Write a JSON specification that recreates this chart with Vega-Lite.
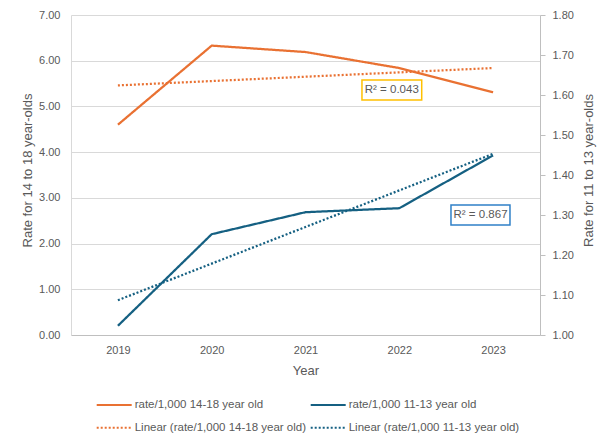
{
  "$schema": "https://vega.github.io/schema/vega-lite/v6.json",
  "width": 469,
  "height": 320,
  "autosize": {"type": "none"},
  "padding": {"left": 71, "top": 15, "right": 71, "bottom": 111},
  "background": "#ffffff",
  "config": {
    "font": "Liberation Sans",
    "view": {"stroke": null},
    "axis": {"labelColor": "#595959", "titleColor": "#595959", "labelFontSize": 11, "titleFontSize": 13, "titleFontWeight": "normal"}
  },
  "datasets": {
    "rates": [
      {"year": 2019, "series": "rate/1,000 14-18 year old", "value": 4.60},
      {"year": 2020, "series": "rate/1,000 14-18 year old", "value": 6.33},
      {"year": 2021, "series": "rate/1,000 14-18 year old", "value": 6.19},
      {"year": 2022, "series": "rate/1,000 14-18 year old", "value": 5.84},
      {"year": 2023, "series": "rate/1,000 14-18 year old", "value": 5.31},
      {"year": 2019, "series": "rate/1,000 11-13 year old", "value": 1.023},
      {"year": 2020, "series": "rate/1,000 11-13 year old", "value": 1.252},
      {"year": 2021, "series": "rate/1,000 11-13 year old", "value": 1.307},
      {"year": 2022, "series": "rate/1,000 11-13 year old", "value": 1.317},
      {"year": 2023, "series": "rate/1,000 11-13 year old", "value": 1.449},
      {"year": 2019, "series": "Linear (rate/1,000 14-18 year old)", "value": 5.46},
      {"year": 2023, "series": "Linear (rate/1,000 14-18 year old)", "value": 5.84},
      {"year": 2019, "series": "Linear (rate/1,000 11-13 year old)", "value": 1.087},
      {"year": 2023, "series": "Linear (rate/1,000 11-13 year old)", "value": 1.453}
    ]
  },
  "data": {"name": "rates"},
  "encoding": {
    "x": {
      "field": "year",
      "type": "quantitative",
      "title": "Year",
      "scale": {"domain": [2018.5, 2023.5], "nice": false, "zero": false},
      "axis": {
        "values": [2019, 2020, 2021, 2022, 2023],
        "format": "d",
        "grid": false,
        "ticks": false,
        "domainColor": "#BFBFBF",
        "labelPadding": 9,
        "title": "Year",
        "titleX": 234.5,
        "titleY": 35,
        "titleAlign": "center",
        "titleBaseline": "middle"
      }
    }
  },
  "layer": [
    {
      "layer": [
        {
          "transform": [{"filter": {"field": "series", "oneOf": ["rate/1,000 14-18 year old", "Linear (rate/1,000 14-18 year old)"]}}],
          "mark": {"type": "line", "strokeWidth": 2.25},
          "encoding": {
            "y": {
              "field": "value",
              "type": "quantitative",
              "title": "Rate for 14 to 18 year-olds",
              "scale": {"domain": [0, 7], "nice": false, "zero": false},
              "axis": {
                "title": "Rate for 14 to 18 year-olds",
                "values": [0, 1, 2, 3, 4, 5, 6, 7],
                "format": ".2f",
                "grid": true,
                "gridColor": "#D9D9D9",
                "domainColor": "#D9D9D9",
                "ticks": false,
                "labelPadding": 11,
                "titleAngle": -90,
                "titleX": -44,
                "titleY": 155,
                "titleAlign": "center",
                "titleBaseline": "middle"
              }
            },
            "color": {
              "field": "series",
              "type": "nominal",
              "scale": {
                "domain": ["rate/1,000 14-18 year old", "Linear (rate/1,000 14-18 year old)", "rate/1,000 11-13 year old", "Linear (rate/1,000 11-13 year old)"],
                "range": ["#E97132", "#E97132", "#156082", "#156082"]
              },
              "legend": {
                "title": null, "orient": "none", "legendX": 24.7, "legendY": 383.5, "columns": 2,
                "symbolType": "stroke", "symbolSize": 1225, "symbolStrokeWidth": 2, "clipHeight": 13,
                "labelFontSize": 11.5, "labelColor": "#595959", "labelOffset": 2, "labelLimit": 300,
                "columnPadding": 3, "rowPadding": 9.7, "padding": 0
              }
            },
            "strokeDash": {
              "field": "series",
              "type": "nominal",
              "scale": {
                "domain": ["rate/1,000 14-18 year old", "Linear (rate/1,000 14-18 year old)", "rate/1,000 11-13 year old", "Linear (rate/1,000 11-13 year old)"],
                "range": [[1, 0], [2, 2], [1, 0], [2, 2]]
              },
              "legend": {
                "title": null, "orient": "none", "legendX": 24.7, "legendY": 383.5, "columns": 2,
                "symbolType": "stroke", "symbolSize": 1225, "symbolStrokeWidth": 2, "clipHeight": 13,
                "labelFontSize": 11.5, "labelColor": "#595959", "labelOffset": 2, "labelLimit": 300,
                "columnPadding": 3, "rowPadding": 9.7, "padding": 0
              }
            }
          }
        },
        {
          "data": {"values": [{"x0": 2021.602, "x1": 2022.239, "y0": 5.141, "y1": 5.578}]},
          "mark": {"type": "rect", "fill": "#ffffff", "stroke": "#FFC000", "strokeWidth": 1.5},
          "encoding": {
            "x": {"field": "x0", "type": "quantitative", "title": "Year"},
            "x2": {"field": "x1"},
            "y": {"field": "y0", "type": "quantitative", "title": "Rate for 14 to 18 year-olds"},
            "y2": {"field": "y1"}
          }
        },
        {
          "data": {"values": [{"x0": 2022.551, "x1": 2023.18, "y0": 2.406, "y1": 2.844}]},
          "mark": {"type": "rect", "fill": "#ffffff", "stroke": "#2F80C8", "strokeWidth": 1.5},
          "encoding": {
            "x": {"field": "x0", "type": "quantitative", "title": "Year"},
            "x2": {"field": "x1"},
            "y": {"field": "y0", "type": "quantitative", "title": "Rate for 14 to 18 year-olds"},
            "y2": {"field": "y1"}
          }
        },
        {
          "data": {"values": [
            {"x": 2021.92, "y": 5.36, "label": "R² = 0.043"},
            {"x": 2022.866, "y": 2.625, "label": "R² = 0.867"}
          ]},
          "mark": {"type": "text", "fontSize": 11.5, "color": "#595959", "align": "center", "baseline": "middle"},
          "encoding": {
            "x": {"field": "x", "type": "quantitative", "title": "Year"},
            "y": {"field": "y", "type": "quantitative", "title": "Rate for 14 to 18 year-olds"},
            "text": {"field": "label"}
          }
        }
      ]
    },
    {
      "layer": [
        {
          "transform": [{"filter": {"field": "series", "oneOf": ["rate/1,000 11-13 year old", "Linear (rate/1,000 11-13 year old)"]}}],
          "mark": {"type": "line", "strokeWidth": 2.25},
          "encoding": {
            "y": {
              "field": "value",
              "type": "quantitative",
              "title": "Rate for 11 to 13 year-olds",
              "scale": {"domain": [1, 1.8], "nice": false, "zero": false},
              "axis": {
                "orient": "right",
                "title": "Rate for 11 to 13 year-olds",
                "values": [1, 1.1, 1.2, 1.3, 1.4, 1.5, 1.6, 1.7, 1.8],
                "format": ".2f",
                "grid": false,
                "domainColor": "#BFBFBF",
                "tickColor": "#BFBFBF",
                "tickSize": 5,
                "labelPadding": 7,
                "titleAngle": -90,
                "titleX": 48,
                "titleY": 155,
                "titleAlign": "center",
                "titleBaseline": "middle"
              }
            },
            "color": {"field": "series", "type": "nominal"},
            "strokeDash": {"field": "series", "type": "nominal"}
          }
        }
      ]
    }
  ],
  "resolve": {"scale": {"y": "independent"}}
}
